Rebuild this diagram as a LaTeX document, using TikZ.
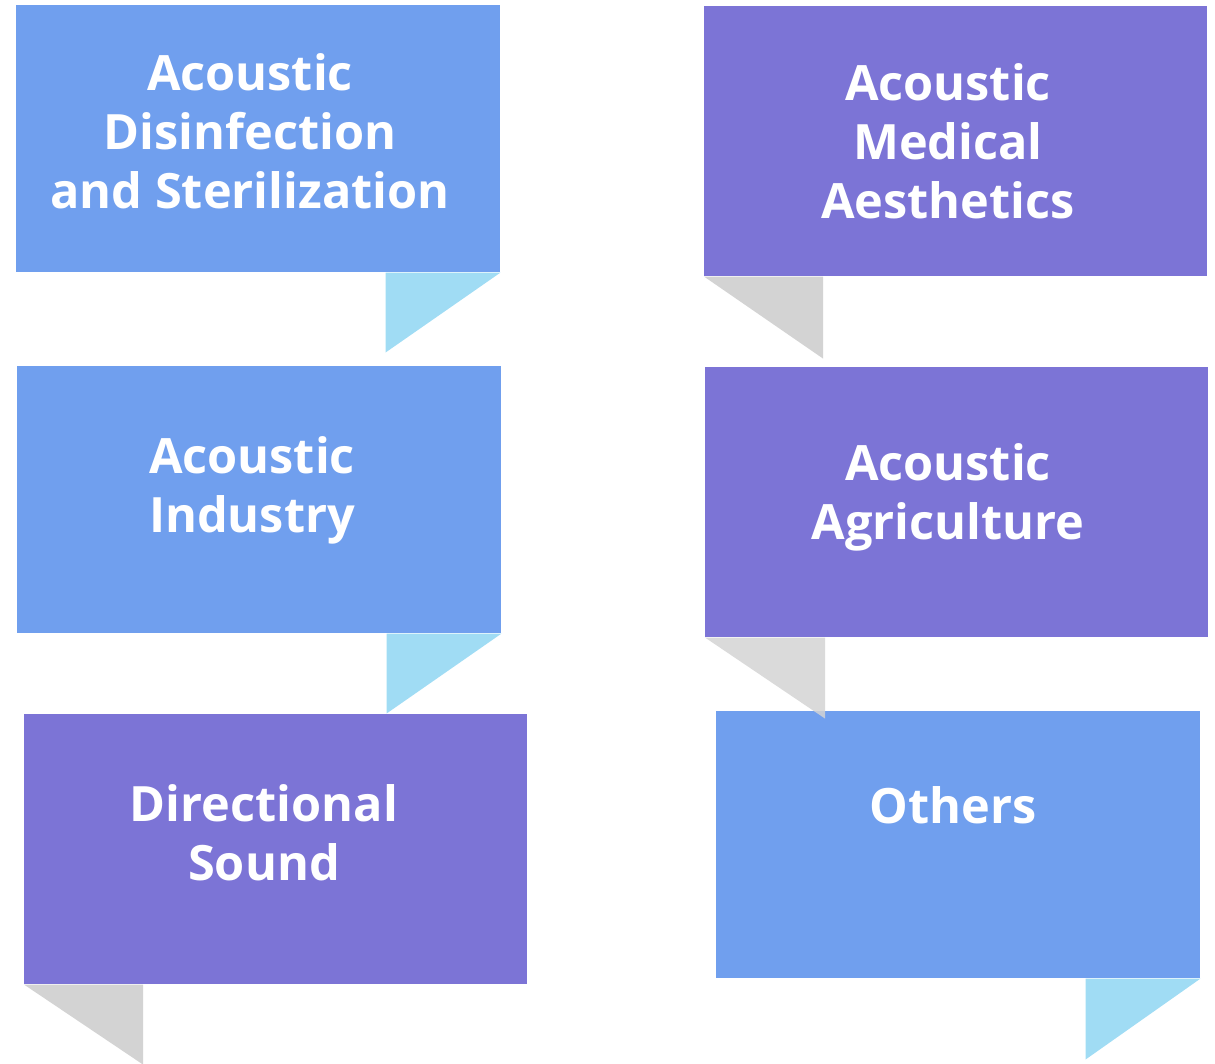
\documentclass[tikz,border=0pt]{standalone}
\usepackage{fontspec}
\setmainfont{Open Sans}
\usetikzlibrary{positioning}

\definecolor{boxBlue}{HTML}{709FEE}
\definecolor{boxPurple}{HTML}{7C74D6}
\definecolor{tabBlue}{HTML}{A0DCF4}
\definecolor{tabGray}{HTML}{D3D3D3}

\begin{document}
\begin{tikzpicture}[
        x=0.75pt, y=-0.75pt,
        card/.style={
          rectangle,
          anchor=north west,
          inner sep=0pt,
          fill=#1
        },
        narrow/.style={minimum width=363pt, minimum height=200.25pt},
        wide/.style={minimum width=377.25pt, minimum height=202.5pt},
        caption/.style={
          text=white,
          align=center,
          inner sep=0pt,
          font=\fontsize{36.5pt}{44.25pt}\selectfont\bfseries
        },
        tab/.style={fill=#1, draw=none}
    ]
    \useasboundingbox (0,0) rectangle (1215,1064);

    % Define the cards
    \node[card=boxBlue, narrow] (disinf) at (16,5) {};
    \node[card=boxPurple, wide] (medical) at (704,6) {};
    \node[card=boxBlue, narrow] (industry) at (17,366) {};
    \node[card=boxPurple, wide] (agri) at (705,367) {};
    \node[card=boxPurple, wide] (sound) at (24,714) {};
    \node[card=boxBlue, narrow] (others) at (716,711) {};

    % Folded tabs
    \fill[tab=tabBlue] (disinf.south east) -- ++(-115,0) -- ++(0,80) -- cycle;
    \fill[tab=tabGray] (medical.south west) -- ++(119,0) -- ++(0,82) -- cycle;
    \fill[tab=tabBlue] (industry.south east) -- ++(-115,0) -- ++(0,80) -- cycle;
    \fill[tab=tabGray, opacity=0.85] (agri.south west) -- ++(120,0) -- ++(0,81) -- cycle;
    \fill[tab=tabGray] (sound.south west) -- ++(119,0) -- ++(0,80) -- cycle;
    \fill[tab=tabBlue] (others.south east) -- ++(-115,0) -- ++(0,81) -- cycle;

    % Captions
    \node[caption] (disinfText) at (250,131) {Acoustic\\Disinfection\\and Sterilization};
    \node[caption] (medicalText) at (948,141) {Acoustic\\Medical\\Aesthetics};
    \node[caption] (industryText) at (252,490) {Acoustic\\Industry};
    \node[caption] (agriText) at (948,497) {Acoustic\\Agriculture};
    \node[caption] (soundText) at (264,833) {Directional\\Sound};
    \node[caption] (othersText) at (953,805) {Others};

\end{tikzpicture}
\end{document}
